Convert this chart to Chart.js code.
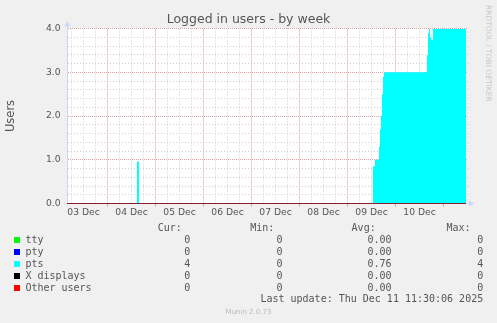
<!DOCTYPE html>
<html>
<head>
<meta charset="utf-8">
<script src="https://cdn.jsdelivr.net/npm/chart.js@4/dist/chart.umd.min.js"></script>
<style>
  html, body { margin: 0; padding: 0; background: #f0f0f0; }
  #wrap { position: relative; width: 497px; height: 323px; overflow: hidden; }
  #chart { position: absolute; left: 0; top: 0; }
  .mono { position: absolute; font-family: 'DejaVu Sans Mono', monospace; font-size: 10px;
          color: #555; white-space: pre; height: 12px; line-height: 12px; }
  .sw { position: absolute; width: 6px; height: 6px; }
  #rrd { position: absolute; left: 492px; top: 5px; font-family: 'DejaVu Sans', sans-serif;
         font-size: 7.5px; line-height: 8px; color: #c8c8c8; white-space: pre;
         transform: rotate(90deg); transform-origin: 0 0; }
  #munin { position: absolute; left: 0; width: 497px; top: 307px; text-align: center;
           font-family: 'DejaVu Sans', sans-serif; font-size: 7px; line-height: 10px; color: #bbb; }
</style>
</head>
<body>
<div id="wrap">
  <canvas id="chart" width="497" height="323"></canvas>
  <div id="rrd">RRDTOOL / TOBI OETIKER</div>
  <div id="legend"></div>
  <div id="munin">Munin 2.0.73</div>
</div>
<script>
// hours counted from 03 Dec 00:00
const hourMin = 3.75;
const hourMax = 204.25;
const dayLabels = ['03 Dec', '04 Dec', '05 Dec', '06 Dec', '07 Dec', '08 Dec', '09 Dec', '10 Dec'];

// pts sessions (step values, each holds until the next hour listed)
const ptsHours = [3.75, 38.75, 39.75, 156.75, 157.75, 159.75, 160.25, 160.75, 161.25, 161.75, 162.25,
                  183.75, 184.25, 184.75, 185.25, 185.75, 186.25, 186.75, 203.25];
const ptsUsers = [0, 0.96, 0, 0.85, 1.0, 1.3, 1.7, 2.0, 2.5, 2.9, 3.0,
                  3.4, 3.9, 4.0, 3.8, 3.75, 3.73, 4.0, 4.0];

// the other series stay at zero the whole week
const zeroHours = [3.75, 203.25];
const ttyUsers = [0, 0];
const ptyUsers = [0, 0];
const xUsers = [0, 0];
const otherUsers = [0, 0];

const seriesNames = ['tty', 'pty', 'pts', 'X displays', 'Other users'];
const seriesColors = ['#00ff00', '#0000ff', '#00ffff', '#000000', '#ff0000'];
const curValues = ['0', '0', '4', '0', '0'];
const minValues = ['0', '0', '0', '0', '0'];
const avgValues = ['0.00', '0.00', '0.76', '0.00', '0.00'];
const maxValues = ['0', '0', '4', '0', '0'];
const lastUpdate = 'Last update: Thu Dec 11 11:30:06 2025';

const MAJOR = '#e0a0a0';
const MINOR = '#cccccc';
const AXIS = '#cfd6f8';

function pairs(xs, ys) {
    return xs.map((x, i) => ({ x: x, y: ys[i] }));
}

function isWhole(v) {
    return Math.abs(v - Math.round(v)) < 1e-6;
}

const plotBg = {
    id: 'plotBg',
    beforeDraw(chart) {
        const a = chart.chartArea;
        const ctx = chart.ctx;
        ctx.save();
        ctx.fillStyle = '#ffffff';
        ctx.fillRect(a.left, Math.floor(a.top), a.right - a.left, a.bottom - Math.floor(a.top));
        ctx.restore();
    }
};

const arrows = {
    id: 'arrows',
    afterDraw(chart) {
        const a = chart.chartArea;
        const ctx = chart.ctx;
        const x0 = a.left + 0.5;
        const y0 = a.bottom;
        ctx.save();
        ctx.strokeStyle = AXIS;
        ctx.fillStyle = AXIS;
        ctx.lineWidth = 1;
        ctx.beginPath();
        ctx.moveTo(x0, a.top);
        ctx.lineTo(x0, a.top - 2);
        ctx.moveTo(a.right, y0);
        ctx.lineTo(a.right + 1, y0);
        ctx.stroke();
        ctx.beginPath();
        ctx.moveTo(x0, a.top - 7.5);
        ctx.lineTo(x0 - 3, a.top - 2);
        ctx.lineTo(x0 + 3, a.top - 2);
        ctx.closePath();
        ctx.fill();
        ctx.beginPath();
        ctx.moveTo(a.right + 6.5, y0);
        ctx.lineTo(a.right + 1, y0 - 3);
        ctx.lineTo(a.right + 1, y0 + 3);
        ctx.closePath();
        ctx.fill();
        ctx.restore();
    }
};

function zeroLine(label, values, color, order) {
    return {
        label: label,
        data: pairs(zeroHours, values),
        borderColor: color,
        backgroundColor: color,
        borderWidth: 1,
        pointRadius: 0,
        fill: false,
        order: order
    };
}

new Chart(document.getElementById('chart'), {
    type: 'line',
    data: {
        datasets: [
            zeroLine('tty', ttyUsers, seriesColors[0], 5),
            zeroLine('pty', ptyUsers, seriesColors[1], 4),
            {
                label: 'pts',
                data: pairs(ptsHours, ptsUsers),
                stepped: true,
                borderWidth: 0,
                borderColor: seriesColors[2],
                backgroundColor: seriesColors[2],
                pointRadius: 0,
                fill: 'origin',
                order: 3
            },
            zeroLine('X displays', xUsers, seriesColors[3], 2),
            zeroLine('Other users', otherUsers, seriesColors[4], 1)
        ]
    },
    options: {
        responsive: false,
        animation: false,
        layout: { padding: 0 },
        plugins: {
            legend: { display: false },
            tooltip: { enabled: false },
            title: {
                display: true,
                text: 'Logged in users - by week',
                color: '#555',
                font: { family: 'DejaVu Sans', size: 12.5, weight: 'normal' },
                padding: { top: 12, bottom: 1.5 }
            }
        },
        scales: {
            x: {
                type: 'linear',
                min: hourMin,
                max: hourMax,
                afterBuildTicks: scale => {
                    const ticks = [];
                    for (let h = 6; h <= hourMax; h += 6) ticks.push({ value: h });
                    scale.ticks = ticks;
                },
                afterFit: scale => { scale.height = 119.5; },
                ticks: {
                    autoSkip: false,
                    maxRotation: 0,
                    padding: 0.5,
                    color: '#555',
                    font: { family: 'DejaVu Sans', size: 9.2 },
                    callback: v => (v % 24 === 12 ? (dayLabels[(v - 12) / 24] || '') : '')
                },
                grid: {
                    color: c => (c.tick && c.tick.value % 24 === 0 ? MAJOR : MINOR),
                    tickColor: c => (c.tick && c.tick.value % 24 === 0 ? MAJOR : 'rgba(0,0,0,0)'),
                    tickLength: 3,
                    tickBorderDash: []
                },
                border: {
                    color: AXIS,
                    dash: c => (c.tick && c.tick.value % 24 === 0 ? [1, 1] : [1, 2])
                }
            },
            y: {
                min: 0,
                max: 4,
                afterFit: scale => { scale.width = 67; },
                ticks: {
                    stepSize: 0.2,
                    autoSkip: false,
                    padding: 6.5,
                    color: '#555',
                    font: { family: 'DejaVu Sans', size: 9.2 },
                    callback: v => (isWhole(v) ? v.toFixed(1) : '')
                },
                title: {
                    display: true,
                    text: 'Users',
                    color: '#555',
                    font: { family: 'DejaVu Sans', size: 11.5 },
                    padding: { top: 4, bottom: 0 }
                },
                grid: {
                    drawTicks: false,
                    color: c => (c.tick && isWhole(c.tick.value) ? MAJOR : MINOR)
                },
                border: {
                    color: AXIS,
                    dash: c => (c.tick && isWhole(c.tick.value) ? [1, 1] : [1, 2])
                }
            },
            y2: {
                position: 'right',
                display: true,
                afterFit: scale => { scale.width = 29; },
                ticks: { display: false },
                grid: { display: false, drawTicks: false },
                border: { display: false }
            }
        }
    },
    plugins: [plotBg, arrows]
});

// legend table under the graph
const legend = document.getElementById('legend');
function put(text, css) {
    const d = document.createElement('div');
    d.className = 'mono';
    d.textContent = text;
    Object.assign(d.style, css);
    legend.appendChild(d);
}
put('Cur:', { left: '157.7px', top: '222px' });
put('Min:', { left: '250.3px', top: '222px' });
put('Avg:', { left: '351.6px', top: '222px' });
put('Max:', { left: '446.4px', top: '222px' });
seriesNames.forEach((name, i) => {
    const top = 234 + i * 12;
    const sw = document.createElement('div');
    sw.className = 'sw';
    sw.style.left = '14px';
    sw.style.top = (top + 3) + 'px';
    sw.style.background = seriesColors[i];
    legend.appendChild(sw);
    put(name, { left: '25.4px', top: top + 'px' });
    put(curValues[i], { right: (497 - 190.2) + 'px', top: top + 'px' });
    put(minValues[i], { right: (497 - 282.6) + 'px', top: top + 'px' });
    put(avgValues[i], { right: (497 - 391.6) + 'px', top: top + 'px' });
    put(maxValues[i], { right: (497 - 483.2) + 'px', top: top + 'px' });
});
put(lastUpdate, { right: (497 - 483.2) + 'px', top: '292.5px' });
</script>
</body>
</html>
